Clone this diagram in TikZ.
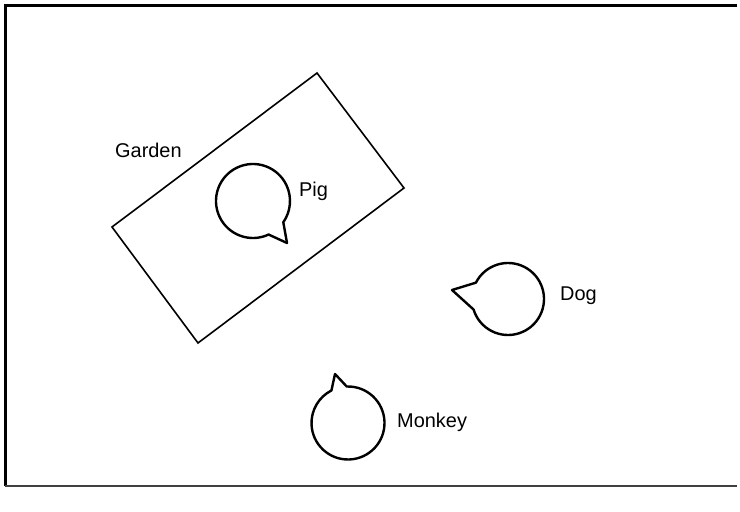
\documentclass[tikz,border=0pt]{standalone}
\usepackage{fontspec}
\setmainfont{Liberation Sans}
\usetikzlibrary{calc}
\begin{document}
\begin{tikzpicture}[x=1bp,y=-1bp,
  bubble/.style={draw=black,line width=2.4bp,line join=round},
  plot/.style={draw=black,line width=1.6bp},
  framebar/.style={draw=black,line width=3bp},
  lbl/.style={font=\fontsize{20}{24}\selectfont,inner sep=0pt,anchor=base west}]
\path[use as bounding box] (0,0) rectangle (740,512);
% frame
\coordinate (f1) at (737,6);
\coordinate (f2) at (5,6);
\coordinate (f3) at (5,486);
\coordinate (f4) at (737,486);
\draw[framebar] (f1) -- (f2) -- (f3);
\draw[draw=black!75,line width=1.8bp] (f3) -- (f4);
% garden
\coordinate (gT) at (317,73);
\coordinate (gR) at (404,188);
\coordinate (gB) at (198,343);
\coordinate (gL) at (112,227);
\draw[plot] (gT) -- (gR) -- (gB) -- (gL) -- cycle;
\node[lbl] (garden) at (115,158) {Garden};
% pig
\coordinate (pigc) at (253,201);
\coordinate (pigtip) at (287,243);
\draw[bubble] ($(pigc)+(65:37)$) arc[start angle=65,end angle=395,radius=37] -- (pigtip) -- cycle;
\node[lbl] (pig) at (299,197) {Pig};
% dog
\coordinate (dogc) at (508,299);
\coordinate (dogtip) at (452,290);
\draw[bubble] ($(dogc)+(207:36)$) arc[start angle=207,end angle=523,radius=36] -- (dogtip) -- cycle;
\node[lbl] (dog) at (560,300) {Dog};
% monkey
\coordinate (monc) at (348,423);
\coordinate (montip) at (335,374);
\draw[bubble] ($(monc)+(268:36.5)$) arc[start angle=268,end angle=603,radius=36.5] -- (montip) -- cycle;
\node[lbl] (monkey) at (397,427) {Monkey};
\end{tikzpicture}
\end{document}
